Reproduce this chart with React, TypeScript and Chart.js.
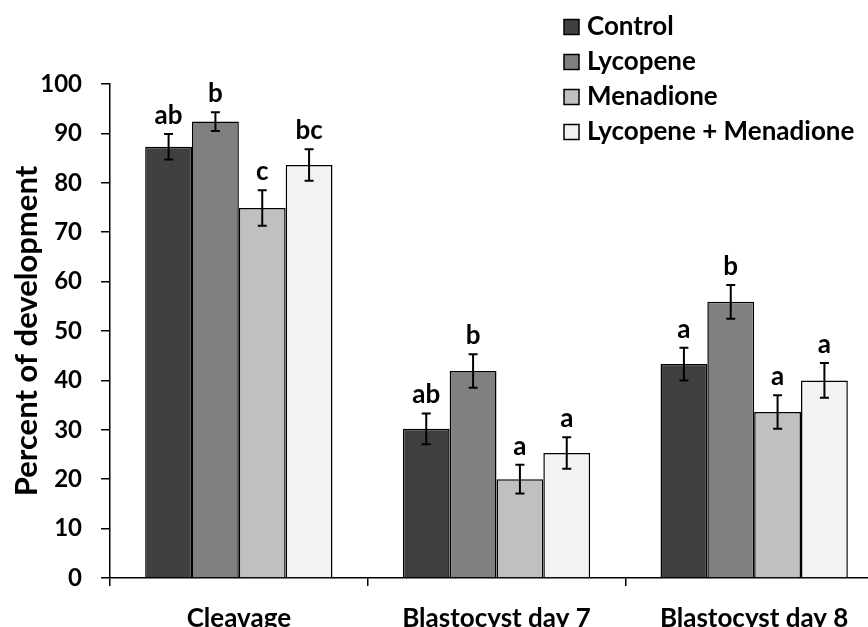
import React, { useEffect, useRef } from "react";
import { Chart, registerables } from "chart.js";

Chart.register(...registerables);

const categories = ["Cleavage", "Blastocyst day 7", "Blastocyst day 8"];
const seriesNames = ["Control", "Lycopene", "Menadione", "Lycopene + Menadione"];
const controlValues = [87.3, 30.2, 43.3];
const lycopeneValues = [92.4, 41.9, 55.9];
const menadioneValues = [74.9, 20.0, 33.6];
const comboValues = [83.6, 25.3, 40.0];
const controlErrors = [2.6, 3.1, 3.3];
const lycopeneErrors = [1.9, 3.4, 3.4];
const menadioneErrors = [3.6, 2.9, 3.4];
const comboErrors = [3.2, 3.2, 3.5];
const controlLetters = ["ab", "ab", "a"];
const lycopeneLetters = ["b", "b", "b"];
const menadioneLetters = ["c", "a", "a"];
const comboLetters = ["bc", "a", "a"];
const yTicks = [0, 10, 20, 30, 40, 50, 60, 70, 80, 90, 100];
const colors = ["#404040", "#808080", "#c0c0c0", "#f2f2f2"];

const FONT = "Lato, 'Open Sans', sans-serif";

const allValues = [controlValues, lycopeneValues, menadioneValues, comboValues];
const allErrors = [controlErrors, lycopeneErrors, menadioneErrors, comboErrors];
const allLetters = [controlLetters, lycopeneLetters, menadioneLetters, comboLetters];

const errorBarPlugin = {
  id: "errorBars",
  afterDatasetsDraw(chart: any) {
    const ctx = chart.ctx;
    const yScale = chart.scales.y;
    ctx.save();
    chart.data.datasets.forEach((ds: any, di: number) => {
      const meta = chart.getDatasetMeta(di);
      meta.data.forEach((el: any, i: number) => {
        const v = ds.data[i];
        const e = ds.errors[i];
        const x = el.x;
        const yt = yScale.getPixelForValue(v + e);
        const yb = yScale.getPixelForValue(v - e);
        ctx.strokeStyle = "#000";
        ctx.lineWidth = 2;
        ctx.beginPath();
        ctx.moveTo(x, yt);
        ctx.lineTo(x, yb);
        ctx.moveTo(x - 4.5, yt);
        ctx.lineTo(x + 4.5, yt);
        ctx.moveTo(x - 4.5, yb);
        ctx.lineTo(x + 4.5, yb);
        ctx.stroke();
        ctx.fillStyle = "#000";
        ctx.font = `bold 26px ${FONT}`;
        ctx.textAlign = "center";
        ctx.textBaseline = "alphabetic";
        ctx.fillText(ds.letters[i], x, yt - 10);
      });
    });
    ctx.restore();
  },
};

const legendPlugin = {
  id: "customLegend",
  afterDraw(chart: any) {
    const ctx = chart.ctx;
    ctx.save();
    chart.data.datasets.forEach((ds: any, di: number) => {
      const cy = 27 + di * 35;
      ctx.fillStyle = ds.backgroundColor;
      ctx.strokeStyle = "#000";
      ctx.lineWidth = 1.5;
      ctx.fillRect(564, cy - 7.5, 15, 15);
      ctx.strokeRect(564, cy - 7.5, 15, 15);
      ctx.fillStyle = "#000";
      ctx.font = `bold 26px ${FONT}`;
      ctx.textAlign = "left";
      ctx.textBaseline = "middle";
      ctx.fillText(ds.label, 587, cy);
    });
    ctx.restore();
  },
};

export default function App() {
  const canvasRef = useRef<HTMLCanvasElement>(null);
  useEffect(() => {
    if (!canvasRef.current) return;
    const chart = new Chart(canvasRef.current, {
      type: "bar",
      data: {
        labels: categories,
        datasets: seriesNames.map((name, i) => ({
          label: name,
          data: allValues[i],
          errors: allErrors[i],
          letters: allLetters[i],
          backgroundColor: colors[i],
          borderColor: "#000",
          borderWidth: 1.5,
          barPercentage: 1,
          categoryPercentage: 0.727,
        })) as any,
      },
      options: {
        responsive: true,
        maintainAspectRatio: false,
        animation: false,
        layout: { padding: { top: 84, right: 9, left: 0, bottom: 0 } },
        plugins: {
          legend: { display: false },
          tooltip: { enabled: false },
        },
        scales: {
          x: {
            grid: {
              drawOnChartArea: false,
              drawTicks: true,
              tickLength: 8,
              color: "#000",
              lineWidth: 1.5,
              offset: true,
            },
            border: { display: true, color: "#000", width: 1.5 },
            ticks: {
              color: "#000",
              font: { family: FONT, size: 26, weight: "bold" },
              padding: 17,
              maxRotation: 0,
            },
            afterFit: (s: any) => {
              s.height = 49;
            },
          },
          y: {
            min: 0,
            max: 100,
            afterBuildTicks: (s: any) => {
              s.ticks = yTicks.map((v) => ({ value: v }));
            },
            grid: {
              drawOnChartArea: false,
              drawTicks: true,
              tickLength: 9,
              color: "#000",
              lineWidth: 1.5,
            },
            border: { display: true, color: "#000", width: 1.5 },
            ticks: {
              color: "#000",
              font: { family: FONT, size: 24, weight: "bold" },
              padding: 19,
            },
            title: {
              display: true,
              text: "Percent of development",
              color: "#000",
              font: { family: FONT, size: 31, weight: "bold" },
              padding: { top: 8, bottom: 0 },
            },
            afterFit: (s: any) => {
              s.width = 110;
            },
          },
        },
      },
      plugins: [errorBarPlugin, legendPlugin],
    });
    return () => chart.destroy();
  }, []);

  return (
    <div style={{ position: "fixed", left: 0, top: 0, width: 868, height: 627, overflow: "hidden", background: "#fff" }}>
      <div style={{ position: "relative", width: 892, height: 627 }}>
        <canvas ref={canvasRef} />
      </div>
    </div>
  );
}
